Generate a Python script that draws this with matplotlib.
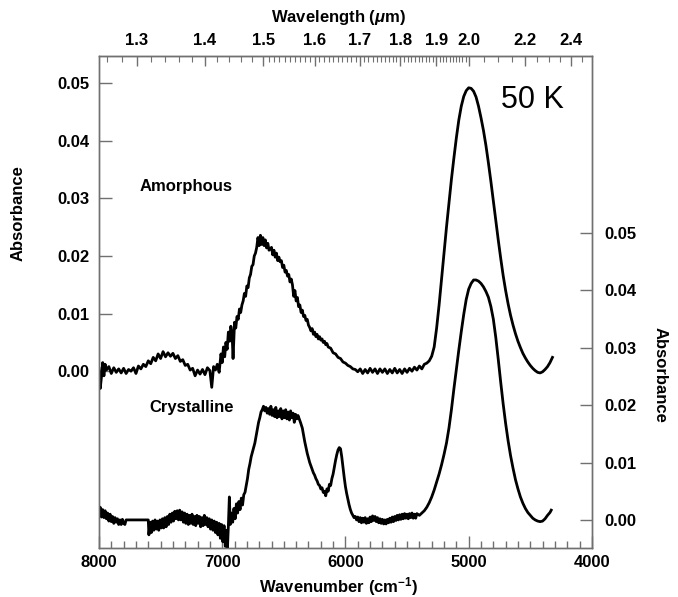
import numpy as np
import matplotlib
matplotlib.use('Agg')
import matplotlib.pyplot as plt

plt.rcParams['font.family'] = 'Liberation Sans'
plt.rcParams['font.weight'] = 'bold'
plt.rcParams['mathtext.fontset'] = 'custom'
plt.rcParams['mathtext.rm'] = 'Liberation Sans:bold'
plt.rcParams['mathtext.it'] = 'Liberation Sans:italic:bold'
plt.rcParams['mathtext.default'] = 'rm'

# amorphous spectrum, left axis (wavenumber cm-1, absorbance)
wn_am = [8000, 7990, 7980, 7970, 7960, 7950, 7940, 7920, 7900, 7880, 7860, 7840, 7820, 7800,
         7780, 7760, 7740, 7720, 7700, 7680, 7660, 7640, 7620, 7600, 7580, 7560, 7540, 7520,
         7500, 7480, 7460, 7440, 7420, 7400, 7380, 7360, 7340, 7320, 7300, 7280, 7260, 7240,
         7220, 7200, 7180, 7160, 7140, 7120, 7100, 7085, 7070, 7055, 7040, 7025, 7010, 7000,
         6990, 6980, 6970, 6960, 6950, 6940, 6930, 6920, 6912, 6900, 6890, 6880, 6870, 6860,
         6850, 6840, 6830, 6820, 6810, 6800, 6790, 6780, 6770, 6760, 6750, 6740, 6730, 6720,
         6710, 6700, 6690, 6680, 6670, 6660, 6650, 6640, 6630, 6620, 6600, 6590, 6580, 6570,
         6560, 6550, 6540, 6530, 6520, 6510, 6500, 6490, 6480, 6470, 6460, 6450, 6440, 6430,
         6420, 6410, 6400, 6390, 6380, 6370, 6360, 6350, 6340, 6330, 6320, 6310, 6300, 6290,
         6280, 6270, 6260, 6250, 6240, 6230, 6220, 6210, 6200, 6190, 6180, 6170, 6160, 6150,
         6140, 6120, 6100, 6080, 6060, 6040, 6020, 6000, 5980, 5960, 5940, 5920, 5900, 5880,
         5860, 5840, 5820, 5800, 5780, 5760, 5740, 5720, 5700, 5680, 5660, 5640, 5620, 5600,
         5580, 5560, 5540, 5520, 5500, 5480, 5460, 5440, 5420, 5400, 5380, 5360, 5340, 5320,
         5300, 5280, 5260, 5240, 5220, 5200, 5180, 5160, 5140, 5120, 5100, 5080, 5060, 5040,
         5020, 5000, 4980, 4960, 4940, 4920, 4900, 4880, 4860, 4840, 4820, 4800, 4780, 4760,
         4740, 4720, 4700, 4680, 4660, 4640, 4620, 4600, 4580, 4560, 4540, 4520, 4500, 4480,
         4460, 4440, 4420, 4400, 4380, 4360, 4340, 4320]
abs_am = [0.0005, -0.0030, -0.0010, 0.0015, -0.0008, 0.0012, 0.0002, 0.0008, -0.0004, 0.0006,
          -0.0002, 0.0004, -0.0003, 0.0005, -0.0004, 0.0003, 0.0000, 0.0006, -0.0004, 0.0009,
          0.0004, 0.0012, 0.0008, 0.0018, 0.0013, 0.0024, 0.0018, 0.0030, 0.0022, 0.0034,
          0.0025, 0.0032, 0.0026, 0.0031, 0.0022, 0.0027, 0.0017, 0.0020, 0.0010, 0.0012,
          0.0002, 0.0005, -0.0008, 0.0002, -0.0005, 0.0003, -0.0006, 0.0006, 0.0001, -0.0028,
          0.0008, 0.0002, 0.0012, -0.0002, 0.0030, 0.0015, 0.0042, 0.0025, 0.0050, 0.0038,
          0.0068, 0.0052, 0.0078, 0.0065, 0.0022, 0.0085, 0.0075, 0.0095, 0.0090, 0.0108,
          0.0102, 0.0115, 0.0122, 0.0135, 0.0130, 0.0148, 0.0145, 0.0162, 0.0168, 0.0182,
          0.0185, 0.0200, 0.0205, 0.0215, 0.0232, 0.0218, 0.0236, 0.0220, 0.0232, 0.0218,
          0.0228, 0.0214, 0.0222, 0.0210, 0.0215, 0.0202, 0.0210, 0.0198, 0.0205, 0.0192,
          0.0198, 0.0190, 0.0192, 0.0180, 0.0184, 0.0172, 0.0175, 0.0165, 0.0168, 0.0155,
          0.0160, 0.0150, 0.0130, 0.0140, 0.0122, 0.0128, 0.0112, 0.0115, 0.0102, 0.0106,
          0.0095, 0.0097, 0.0088, 0.0090, 0.0080, 0.0076, 0.0070, 0.0074, 0.0064, 0.0068,
          0.0060, 0.0064, 0.0056, 0.0060, 0.0054, 0.0056, 0.0050, 0.0052, 0.0046, 0.0048,
          0.0042, 0.0040, 0.0032, 0.0030, 0.0024, 0.0022, 0.0016, 0.0014, 0.0010, 0.0008,
          0.0004, 0.0003, -0.0001, 0.0004, -0.0004, 0.0003, -0.0003, 0.0005, -0.0002, 0.0004,
          -0.0004, 0.0004, -0.0002, 0.0004, -0.0004, 0.0003, -0.0003, 0.0005, -0.0003, 0.0003,
          -0.0004, 0.0004, -0.0002, 0.0005, 0.0000, 0.0007, 0.0002, 0.0009, 0.0004, 0.0012,
          0.0014, 0.0018, 0.0026, 0.0042, 0.0075, 0.0115, 0.0160, 0.0205, 0.0250, 0.0292,
          0.0333, 0.0370, 0.0405, 0.0436, 0.0460, 0.0477, 0.0487, 0.0492, 0.0491, 0.0486,
          0.0476, 0.0460, 0.0440, 0.0418, 0.0392, 0.0362, 0.0330, 0.0296, 0.0262, 0.0228,
          0.0196, 0.0166, 0.0140, 0.0117, 0.0097, 0.0080, 0.0065, 0.0052, 0.0041, 0.0031,
          0.0023, 0.0016, 0.0010, 0.0005, 0.0001, -0.0002, -0.0003, -0.0001, 0.0003, 0.0008,
          0.0015, 0.0024]

# crystalline spectrum, right axis
wn_cr = [8000, 7990, 7980, 7970, 7960, 7950, 7940, 7930, 7920, 7910, 7900, 7890, 7880, 7870,
         7860, 7850, 7840, 7830, 7820, 7810, 7800, 7790, 7780, 7600, 7595, 7585, 7575, 7565,
         7555, 7545, 7535, 7525, 7515, 7505, 7495, 7485, 7475, 7465, 7455, 7445, 7435, 7425,
         7415, 7405, 7395, 7385, 7375, 7365, 7355, 7345, 7335, 7325, 7315, 7305, 7295, 7285,
         7275, 7265, 7255, 7245, 7235, 7225, 7215, 7205, 7195, 7185, 7175, 7165, 7155, 7145,
         7135, 7125, 7115, 7105, 7095, 7085, 7075, 7065, 7055, 7045, 7035, 7025, 7015, 7005,
         6995, 6985, 6975, 6965, 6958, 6950, 6942, 6935, 6925, 6915, 6905, 6895, 6885, 6875,
         6865, 6855, 6845, 6835, 6825, 6815, 6805, 6795, 6785, 6775, 6765, 6755, 6745, 6735,
         6725, 6715, 6705, 6695, 6685, 6675, 6665, 6655, 6645, 6635, 6625, 6615, 6605, 6595,
         6585, 6575, 6565, 6555, 6545, 6535, 6525, 6515, 6505, 6495, 6485, 6475, 6465, 6455,
         6445, 6435, 6425, 6415, 6405, 6395, 6385, 6375, 6365, 6350, 6340, 6330, 6320, 6310,
         6300, 6290, 6280, 6270, 6260, 6250, 6240, 6230, 6220, 6210, 6200, 6190, 6180, 6170,
         6160, 6150, 6140, 6130, 6120, 6110, 6100, 6090, 6080, 6070, 6060, 6050, 6040, 6030,
         6020, 6010, 6000, 5990, 5980, 5970, 5960, 5950, 5940, 5930, 5920, 5910, 5900, 5890,
         5880, 5870, 5860, 5850, 5840, 5830, 5820, 5810, 5800, 5790, 5780, 5770, 5760, 5750,
         5740, 5730, 5720, 5710, 5700, 5690, 5680, 5670, 5660, 5650, 5640, 5630, 5620, 5610,
         5600, 5590, 5580, 5570, 5560, 5550, 5540, 5530, 5520, 5510, 5500, 5490, 5480, 5470,
         5460, 5450, 5440, 5430, 5420, 5400, 5380, 5360, 5340, 5320, 5300, 5280, 5260, 5240,
         5220, 5200, 5180, 5160, 5140, 5120, 5100, 5080, 5060, 5040, 5020, 5000, 4980, 4960,
         4940, 4920, 4900, 4880, 4860, 4840, 4820, 4800, 4780, 4760, 4740, 4720, 4700, 4680,
         4660, 4640, 4620, 4600, 4580, 4560, 4540, 4520, 4500, 4480, 4460, 4440, 4420, 4400,
         4380, 4360, 4340, 4330]
abs_cr = [0.0010, 0.0022, 0.0005, 0.0018, 0.0004, 0.0016, 0.0002, 0.0012, -0.0002, 0.0010,
          -0.0003, 0.0006, -0.0006, 0.0004, -0.0004, 0.0002, -0.0008, 0.0000, -0.0008, 0.0001,
          -0.0006, -0.0008, 0.0000, 0.0000, -0.0026, -0.0004, -0.0022, -0.0002, -0.0018, 0.0000,
          -0.0016, -0.0002, -0.0018, 0.0000, -0.0014, 0.0002, -0.0014, 0.0004, -0.0012, 0.0006,
          -0.0008, 0.0010, -0.0004, 0.0012, -0.0002, 0.0015, 0.0002, 0.0016, 0.0000, 0.0017,
          0.0000, 0.0014, -0.0004, 0.0012, -0.0006, 0.0010, -0.0008, 0.0008, -0.0006, 0.0010,
          -0.0008, 0.0006, -0.0010, 0.0008, -0.0006, 0.0006, -0.0012, 0.0004, -0.0010, 0.0008,
          -0.0008, 0.0004, -0.0012, 0.0002, -0.0016, 0.0000, -0.0018, -0.0002, -0.0022, -0.0004,
          -0.0026, -0.0006, -0.0032, -0.0008, -0.0038, -0.0010, -0.0046, -0.0018, -0.0052, -0.0010,
          0.0040, -0.0008, 0.0012, -0.0004, 0.0020, 0.0002, 0.0028, 0.0012, 0.0032, 0.0018,
          0.0038, 0.0026, 0.0044, 0.0048, 0.0060, 0.0072, 0.0088, 0.0098, 0.0110, 0.0118,
          0.0126, 0.0134, 0.0146, 0.0158, 0.0170, 0.0178, 0.0188, 0.0192, 0.0198, 0.0190,
          0.0196, 0.0186, 0.0194, 0.0184, 0.0198, 0.0182, 0.0192, 0.0180, 0.0196, 0.0178,
          0.0190, 0.0180, 0.0194, 0.0176, 0.0190, 0.0178, 0.0192, 0.0176, 0.0188, 0.0174,
          0.0190, 0.0178, 0.0186, 0.0170, 0.0184, 0.0176, 0.0182, 0.0176, 0.0170, 0.0160,
          0.0148, 0.0136, 0.0126, 0.0116, 0.0108, 0.0100, 0.0094, 0.0088, 0.0082, 0.0078,
          0.0072, 0.0068, 0.0062, 0.0060, 0.0054, 0.0056, 0.0048, 0.0050, 0.0042, 0.0054,
          0.0050, 0.0062, 0.0060, 0.0072, 0.0080, 0.0092, 0.0104, 0.0114, 0.0122, 0.0126,
          0.0124, 0.0110, 0.0092, 0.0074, 0.0058, 0.0046, 0.0036, 0.0026, 0.0018, 0.0012,
          0.0008, 0.0004, 0.0006, 0.0000, 0.0005, -0.0003, 0.0004, -0.0005, 0.0003, -0.0004,
          0.0004, -0.0006, 0.0002, -0.0005, 0.0005, -0.0003, 0.0007, -0.0001, 0.0006, -0.0003,
          0.0004, -0.0005, 0.0002, -0.0006, 0.0001, -0.0007, 0.0000, -0.0007, 0.0001, -0.0005,
          0.0003, -0.0004, 0.0005, -0.0003, 0.0006, -0.0001, 0.0008, 0.0000, 0.0009, 0.0001,
          0.0010, 0.0002, 0.0011, 0.0003, 0.0010, 0.0002, 0.0011, 0.0004, 0.0012, 0.0003,
          0.0010, 0.0003, 0.0011, 0.0008, 0.0012, 0.0016, 0.0022, 0.0030, 0.0040, 0.0052,
          0.0066, 0.0080, 0.0096, 0.0114, 0.0134, 0.0160, 0.0192, 0.0228, 0.0262, 0.0296,
          0.0328, 0.0358, 0.0384, 0.0402, 0.0412, 0.0418, 0.0418, 0.0416, 0.0412, 0.0406,
          0.0398, 0.0388, 0.0372, 0.0350, 0.0318, 0.0280, 0.0240, 0.0202, 0.0168, 0.0138,
          0.0112, 0.0090, 0.0070, 0.0054, 0.0040, 0.0029, 0.0020, 0.0013, 0.0008, 0.0003,
          0.0000, -0.0002, -0.0003, -0.0002, 0.0002, 0.0008, 0.0013, 0.0017]

yticks = [0.00, 0.01, 0.02, 0.03, 0.04, 0.05]
wl_major = [1.3, 1.4, 1.5, 1.6, 1.7, 1.8, 1.9, 2.0, 2.2, 2.4]
wl_minor = list(np.round(np.arange(1.26, 1.50, 0.02), 2)) + \
           list(np.round(np.arange(1.51, 2.0, 0.01), 2)) + \
           [2.05, 2.1, 2.15, 2.25, 2.3, 2.35, 2.45]

spine_col = '#707070'

fig = plt.figure(figsize=(6.78, 5.97), dpi=100)
ax = fig.add_axes([0.146, 0.082, 0.727, 0.824])
ax2 = ax.twinx()

ax.plot(wn_am, abs_am, color='black', lw=2.0)
ax2.plot(wn_cr, abs_cr, color='black', lw=2.0)

ax.set_xlim(8000, 4000)
ax.set_ylim(-0.0307, 0.0547)
ax2.set_ylim(-0.0049, 0.0808)

ax.set_xticks([8000, 7000, 6000, 5000, 4000])
ax.set_xticks(np.arange(4000, 8001, 100), minor=True)
ax.set_yticks(yticks)
ax.set_yticklabels(['%.2f' % v for v in yticks])
ax2.set_yticks(yticks)
ax2.set_yticklabels(['%.2f' % v for v in yticks])

ax.tick_params(axis='x', which='major', direction='in', length=9, width=1, color=spine_col,
               labelsize=12, pad=5)
ax.tick_params(axis='x', which='minor', direction='in', length=5, width=1, color=spine_col)
ax.tick_params(axis='y', which='major', direction='in', length=9, width=1, color=spine_col,
               labelsize=12, pad=7)
ax2.tick_params(axis='y', which='major', direction='in', length=9, width=1, color=spine_col,
                labelsize=12, pad=9)

for a in (ax, ax2):
    for s in a.spines.values():
        s.set_color(spine_col)
        s.set_linewidth(1)

# top wavelength axis
top = ax.secondary_xaxis('top', functions=(lambda x: 1e4 / x, lambda x: 1e4 / x))
top.set_xticks(wl_major)
top.set_xticklabels(['%.1f' % v for v in wl_major])
top.set_xticks(wl_minor, minor=True)
top.tick_params(which='major', direction='in', length=7, width=1, color=spine_col,
                labelsize=12, pad=6)
top.tick_params(which='minor', direction='in', length=4, width=0.8, color=spine_col)
top.spines['top'].set_color(spine_col)

fig.text(0.50, 0.970, r'Wavelength ($\it{μ}$m)', ha='center', va='center', fontsize=12)
fig.text(0.50, 0.017, r'Wavenumber (cm$^{-1}$)', ha='center', va='center', fontsize=12)
fig.text(0.027, 0.643, 'Absorbance', rotation=90, ha='center', va='center', fontsize=12)
fig.text(0.973, 0.372, 'Absorbance', rotation=270, ha='center', va='center', fontsize=12)

fig.text(0.274, 0.688, 'Amorphous', ha='center', va='center', fontsize=12)
fig.text(0.283, 0.317, 'Crystalline', ha='center', va='center', fontsize=12)
fig.text(0.786, 0.832, '50 K', ha='center', va='center', fontsize=22, fontweight='normal')

fig.savefig('out.png', dpi=100)
